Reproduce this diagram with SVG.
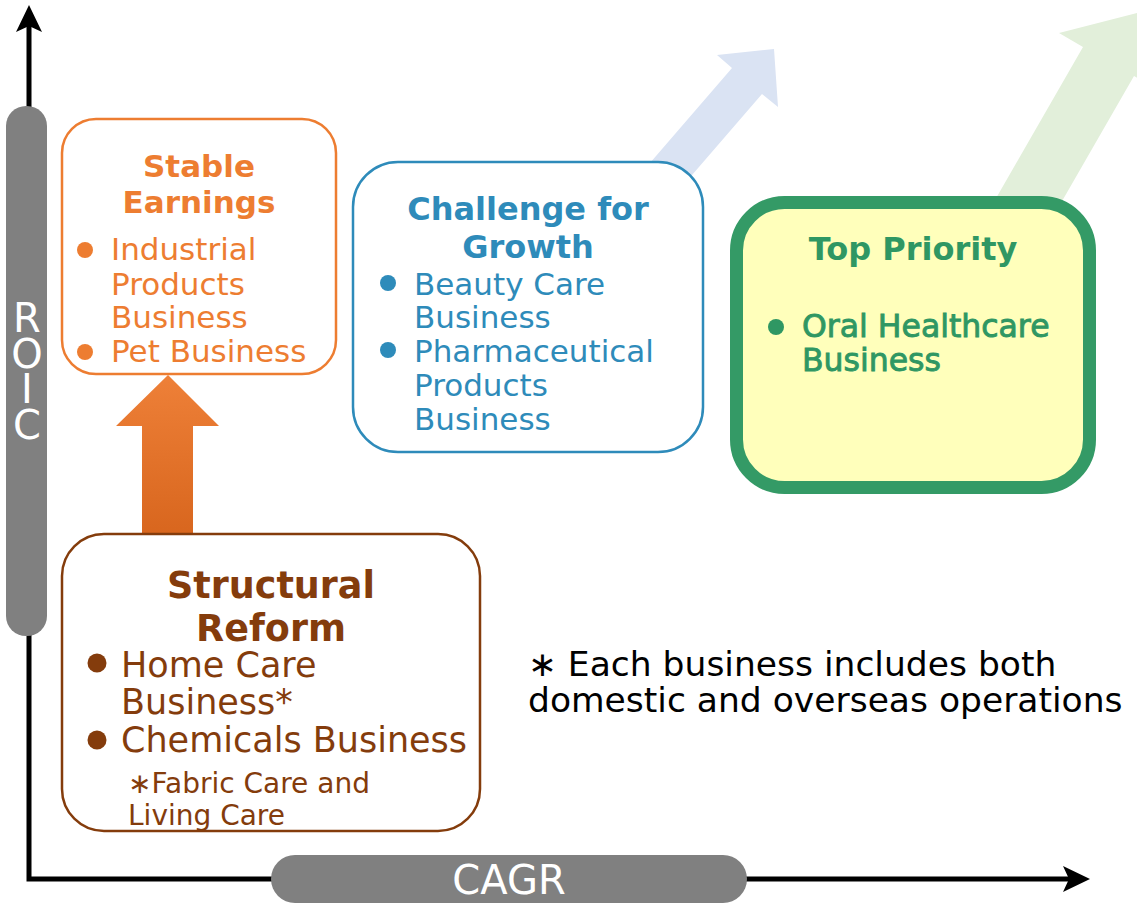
<svg xmlns="http://www.w3.org/2000/svg" width="1137" height="903" viewBox="0 0 1137 903">
  <defs>
    <linearGradient id="orangeFade" x1="0" y1="0" x2="0" y2="1">
      <stop offset="0" stop-color="#EE8038"/>
      <stop offset="1" stop-color="#D8661E"/>
    </linearGradient>
  </defs>
  <style>
    text { font-family: "DejaVu Sans", "Liberation Sans", sans-serif; }
    .axis { stroke: #000; stroke-width: 5; fill: none; }
    .bar { fill: #808080; }
    .barText { fill: #fff; }
    .stacked { writing-mode: vertical-rl; text-orientation: upright; letter-spacing: -10.5px; }
    .title { font-weight: bold; text-anchor: middle; }
    .orange { fill: #ED7D31; }
    .blue { fill: #2E8BBA; }
    .green { fill: #2F9763; }
    .brown { fill: #843C0C; }
    .ink { fill: #000; }
  </style>

  <!-- background growth arrows -->
  <g id="growth-arrows">
    <polygon points="618,200 732,68 717,55 774,49 778,107 762,94 648,226" fill="#DAE3F3"/>
    <polygon points="972,240 1083,47 1059,33 1137,13 1158,90 1134,76 1023,269" fill="#E2EFDA"/>
  </g>

  <!-- axes and the upward transition arrow -->
  <g id="connectors">
    <path class="axis" d="M29,24 V879 H1075"/>
    <polygon points="29,5 42,32 29,26 16,32" fill="#000"/>
    <polygon points="1090,879 1063,866 1069,879 1063,892" fill="#000"/>
    <polygon points="168,375 219,426 193,426 193,535 142,535 142,426 116,426" fill="url(#orangeFade)"/>
  </g>

  <g id="roic-axis-label">
    <rect class="bar" x="6" y="106" width="41" height="530" rx="20"/>
    <text class="barText stacked" x="27" y="295" font-size="40">ROIC</text>
  </g>

  <g id="cagr-axis-label">
    <rect class="bar" x="271" y="855" width="476" height="48" rx="24"/>
    <text class="barText" x="509" y="894" font-size="40" text-anchor="middle">CAGR</text>
  </g>

  <g id="stable-earnings">
    <rect x="62" y="119" width="274" height="255" rx="34" fill="#fff" stroke="#ED7D31" stroke-width="2.5"/>
    <text class="title orange" x="199" y="177" font-size="31">Stable</text>
    <text class="title orange" x="199" y="213" font-size="31">Earnings</text>
    <circle class="orange" cx="85" cy="250" r="8"/>
    <circle class="orange" cx="85" cy="352" r="8"/>
    <g class="orange" font-size="31">
      <text x="111" y="260">Industrial</text>
      <text x="111" y="295">Products</text>
      <text x="111" y="328">Business</text>
      <text x="111" y="362">Pet Business</text>
    </g>
  </g>

  <g id="challenge-for-growth">
    <rect x="353" y="162" width="350" height="290" rx="45" fill="#fff" stroke="#2E8BBA" stroke-width="2.5"/>
    <text class="title blue" x="528" y="220" font-size="32">Challenge for</text>
    <text class="title blue" x="528" y="258" font-size="32">Growth</text>
    <circle class="blue" cx="388" cy="283" r="8"/>
    <circle class="blue" cx="388" cy="350" r="8"/>
    <g class="blue" font-size="31">
      <text x="414" y="295">Beauty Care</text>
      <text x="414" y="328">Business</text>
      <text x="414" y="362">Pharmaceutical</text>
      <text x="414" y="396">Products</text>
      <text x="414" y="430">Business</text>
    </g>
  </g>

  <g id="top-priority">
    <rect x="736.5" y="202.5" width="353" height="285" rx="48" fill="#FFFFBB" stroke="#349A66" stroke-width="13"/>
    <text class="title green" x="913" y="260" font-size="32">Top Priority</text>
    <circle class="green" cx="776" cy="327" r="8"/>
    <g class="green" font-size="31.5" stroke="#2F9763" stroke-width="0.9">
      <text x="802" y="337">Oral Healthcare</text>
      <text x="802" y="371">Business</text>
    </g>
  </g>

  <g id="structural-reform">
    <rect x="62" y="534" width="418" height="297" rx="42" fill="#fff" stroke="#843C0C" stroke-width="2.5"/>
    <text class="title brown" x="271" y="598" font-size="36.5">Structural</text>
    <text class="title brown" x="271" y="641" font-size="36.5">Reform</text>
    <circle class="brown" cx="97" cy="663" r="9.5"/>
    <circle class="brown" cx="97" cy="740" r="9.5"/>
    <g class="brown" font-size="35">
      <text x="121" y="677">Home Care</text>
      <text x="121" y="714">Business*</text>
      <text x="121" y="752">Chemicals Business</text>
    </g>
    <g class="brown" font-size="28">
      <text x="128" y="793">∗Fabric Care and</text>
      <text x="128" y="825">Living Care</text>
    </g>
  </g>

  <g id="footnote" class="ink" font-size="34.5">
    <text x="528" y="676">∗ Each business includes both</text>
    <text x="528" y="712">domestic and overseas operations</text>
  </g>
</svg>
